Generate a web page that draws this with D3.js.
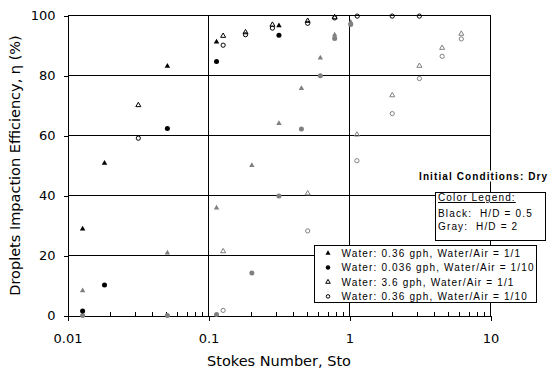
<!DOCTYPE html>
<html>
<head>
<meta charset="utf-8">
<script src="https://cdn.jsdelivr.net/npm/d3@7"></script>
<style>
  body { margin: 0; background: #fff; }
  svg { display: block; }
</style>
</head>
<body>
<svg id="chart" width="548" height="372"></svg>
<script>
// Droplet impaction efficiency vs Stokes number (dry initial conditions)

const yTicks = [0, 20, 40, 60, 80, 100];
const yGrid = [20, 40, 60, 80];
const xTicks = [0.01, 0.1, 1, 10];
const xTickLabels = ["0.01", "0.1", "1", "10"];
const xGrid = [0.1, 1];

// Black markers: H/D = 0.5   —   [Stokes number, efficiency %]
const blackTriFilled = [[0.0128, 28.9], [0.0183, 50.8], [0.0511, 83.1], [0.114, 91.2], [0.316, 96.6]];
const blackCircFilled = [[0.0128, 1.5], [0.0183, 10.2], [0.0511, 62.3], [0.114, 84.7], [0.316, 93.4]];
const blackTriOpen = [[0.0318, 70.1], [0.127, 93.2], [0.183, 94.4], [0.284, 96.9], [0.505, 98.2], [0.785, 99.4]];
const blackCircOpen = [[0.0318, 59.1], [0.127, 90.1], [0.183, 93.6], [0.284, 95.8], [0.505, 97.4], [0.785, 99.2], [1.135, 99.8], [2.01, 99.8], [3.13, 99.8]];

// Gray markers: H/D = 2
const grayTriFilled = [[0.0128, 8.3], [0.0511, 20.9], [0.114, 35.9], [0.203, 50.0], [0.316, 64.0], [0.456, 75.7], [0.621, 85.9], [0.785, 93.5], [1.02, 97.8]];
const grayCircFilled = [[0.0128, 0], [0.0511, 0], [0.114, 0.3], [0.203, 14.2], [0.316, 39.8], [0.456, 62.2], [0.621, 79.9], [0.785, 92.3], [1.02, 97.0]];
const grayTriOpen = [[0.127, 21.4], [0.505, 40.7], [1.128, 60.3], [2.01, 73.4], [3.13, 83.2], [4.54, 89.2], [6.21, 93.9]];
const grayCircOpen = [[0.127, 1.7], [0.505, 28.2], [1.128, 51.6], [2.01, 67.3], [3.13, 79.0], [4.54, 86.4], [6.21, 92.2]];

const legendLabels = [
  "Water: 0.36 gph, Water/Air = 1/1",
  "Water: 0.036 gph, Water/Air = 1/10",
  "Water: 3.6 gph, Water/Air = 1/1",
  "Water: 0.36 gph, Water/Air = 1/10"
];
const legendShapes = ["triFilled", "circFilled", "triOpen", "circOpen"];
const colorLegendLines = ["Black:  H/D = 0.5", "Gray:  H/D = 2"];

const BLACK = "#000";
const GRAY = "#808080";

const svg = d3.select("#chart");
const plotLeft = 67.5, plotRight = 490.5, plotTop = 15.5, plotBottom = 315.5;

const x = d3.scaleLog().domain([0.01, 10]).range([plotLeft, plotRight]);
const y = d3.scaleLinear().domain([0, 100]).range([plotBottom, plotTop]);

const axisFont = "'DejaVu Sans', Verdana, sans-serif";
const legendFont = "'Liberation Sans', Arial, sans-serif";

// grid lines
const grid = svg.append("g").attr("stroke", BLACK).attr("stroke-width", 1).attr("shape-rendering", "crispEdges");
grid.selectAll("line.h").data(yGrid).join("line").attr("class", "h")
  .attr("x1", plotLeft).attr("x2", plotRight).attr("y1", d => y(d)).attr("y2", d => y(d));
grid.selectAll("line.v").data(xGrid).join("line").attr("class", "v")
  .attr("x1", d => x(d)).attr("x2", d => x(d)).attr("y1", plotTop).attr("y2", plotBottom);
// top and right frame
grid.append("line").attr("x1", plotLeft).attr("x2", plotRight).attr("y1", y(100)).attr("y2", y(100));
grid.append("line").attr("x1", x(10)).attr("x2", x(10)).attr("y1", plotTop).attr("y2", plotBottom);

// y axis
const yAxis = svg.append("g").attr("transform", `translate(${plotLeft},0)`)
  .call(d3.axisLeft(y).tickValues(yTicks).tickFormat(d3.format("d")).tickSize(4).tickSizeOuter(0).tickPadding(8));
yAxis.selectAll("text").attr("font-family", axisFont).attr("font-size", 13).attr("fill", BLACK);

// x axis with major ticks below
const xAxis = svg.append("g").attr("transform", `translate(0,${plotBottom})`)
  .call(d3.axisBottom(x).tickValues(xTicks).tickFormat((d, i) => xTickLabels[i]).tickSize(5).tickSizeOuter(0).tickPadding(13));
xAxis.selectAll("text").attr("font-family", axisFont).attr("font-size", 13).attr("fill", BLACK);
[yAxis, xAxis].forEach(g => {
  g.selectAll("path,line").attr("stroke", BLACK).attr("shape-rendering", "crispEdges");
});

// minor ticks pointing inward
const minor = [];
[0.01, 0.1, 1].forEach(dec => { for (let k = 2; k <= 9; k++) minor.push(dec * k); });
svg.append("g").attr("stroke", BLACK).attr("shape-rendering", "crispEdges")
  .selectAll("line").data(minor).join("line")
  .attr("x1", d => Math.round(x(d)) + 0.5).attr("x2", d => Math.round(x(d)) + 0.5)
  .attr("y1", plotBottom).attr("y2", plotBottom - 4);

// axis titles
svg.append("text").attr("x", (plotLeft + plotRight) / 2).attr("y", 366)
  .attr("text-anchor", "middle").attr("font-family", axisFont).attr("font-size", 14.5)
  .text("Stokes Number, Sto");
svg.append("text").attr("transform", `translate(19.5,${(plotTop + plotBottom) / 2}) rotate(-90)`)
  .attr("text-anchor", "middle").attr("font-family", axisFont).attr("font-size", 14.5)
  .text("Droplets Impaction Efficiency, η (%)");

// markers
const triPath = s => d3.symbol().type(d3.symbolTriangle).size(s)();
const circPath = s => d3.symbol().type(d3.symbolCircle).size(s)();

function drawMarkers(g, data, shape, color, px, py) {
  const filled = shape.endsWith("Filled");
  const isTri = shape.startsWith("tri");
  const path = isTri ? triPath(filled ? 13 : 11) : circPath(filled ? 20 : 14);
  g.selectAll(null).data(data).join("path")
    .attr("transform", d => `translate(${px(d)},${py(d)})`)
    .attr("d", path)
    .attr("fill", filled ? color : "none")
    .attr("stroke", filled ? "none" : color)
    .attr("stroke-width", 1);
}

const series = [
  [grayCircFilled, "circFilled", GRAY],
  [grayTriFilled, "triFilled", GRAY],
  [grayCircOpen, "circOpen", GRAY],
  [grayTriOpen, "triOpen", GRAY],
  [blackCircFilled, "circFilled", BLACK],
  [blackTriFilled, "triFilled", BLACK],
  [blackCircOpen, "circOpen", BLACK],
  [blackTriOpen, "triOpen", BLACK]
];
const marks = svg.append("g");
series.forEach(([data, shape, color]) => {
  drawMarkers(marks.append("g"), data, shape, color, d => x(d[0]), d => y(d[1]));
});

// conditions note
const note = svg.append("g");
const noteRect = note.append("rect").attr("fill", "#fff");
const noteText = note.append("text").attr("x", 419).attr("y", 179.5)
  .attr("font-family", legendFont).attr("font-size", 10).attr("font-weight", "bold")
  .attr("letter-spacing", 1.1).text("Initial Conditions: Dry");
const nb = noteText.node().getBBox();
noteRect.attr("x", nb.x - 2).attr("y", nb.y).attr("width", nb.width + 4).attr("height", nb.height);

// colour legend
const cl = svg.append("g");
cl.append("rect").attr("x", 435.5).attr("y", 192.5).attr("width", 110).attr("height", 47.5)
  .attr("fill", "#fff").attr("stroke", BLACK).attr("shape-rendering", "crispEdges");
cl.append("text").attr("x", 438).attr("y", 201)
  .attr("font-family", legendFont).attr("font-size", 10).attr("letter-spacing", 1.15)
  .style("text-decoration", "underline").text("Color Legend:");
cl.selectAll("text.line").data(colorLegendLines).join("text").attr("class", "line")
  .attr("x", 438).attr("y", (d, i) => 217.3 + i * 12.8)
  .attr("font-family", legendFont).attr("font-size", 10).attr("letter-spacing", 1.15)
  .style("white-space", "pre").text(d => d);

// symbol legend
const lg = svg.append("g");
lg.append("rect").attr("x", 314.5).attr("y", 245.5).attr("width", 222).attr("height", 57)
  .attr("fill", "#fff").attr("stroke", BLACK).attr("shape-rendering", "crispEdges");
const rowY = i => 253.2 + i * 14.4;
legendShapes.forEach((shape, i) => {
  const filled = shape.endsWith("Filled");
  const isTri = shape.startsWith("tri");
  lg.append("path")
    .attr("transform", `translate(328,${rowY(i)})`)
    .attr("d", isTri ? triPath(filled ? 11 : 9) : circPath(filled ? 16 : 10))
    .attr("fill", filled ? BLACK : "none")
    .attr("stroke", filled ? "none" : BLACK);
});
lg.selectAll("text").data(legendLabels).join("text")
  .attr("x", 341.5).attr("y", (d, i) => rowY(i) + 3.6)
  .attr("font-family", legendFont).attr("font-size", 10).attr("letter-spacing", 1.15)
  .text(d => d);
</script>
</body>
</html>
